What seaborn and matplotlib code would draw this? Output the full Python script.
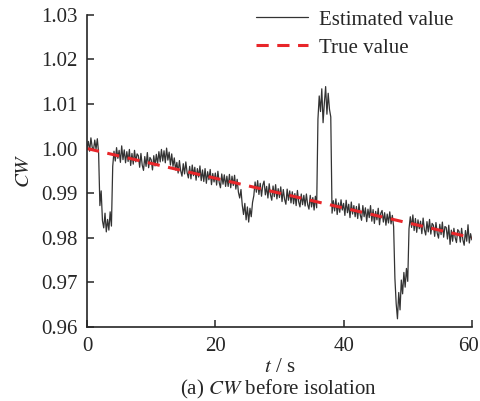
import numpy as np
import seaborn as sns
import matplotlib.pyplot as plt
from matplotlib.transforms import ScaledTranslation

t = np.round(np.arange(301) * 0.2, 1)
cw_est = [
    1.0002, 1.0016, 0.9994, 1.0024, 1.0003, 0.9996, 1.0019, 0.9999, 1.0022, 0.9990,
    0.9872, 0.9905, 0.9838, 0.9822, 0.9855, 0.9813, 0.9841, 0.9817, 0.9858, 0.9826,
    0.9960, 0.9994, 0.9972, 1.0002, 0.9978, 0.9996, 0.9969, 1.0006, 0.9975, 0.9997,
    0.9968, 0.9993, 0.9971, 0.9998, 0.9962, 0.9989, 0.9965, 0.9996, 0.9970, 0.9988,
    0.9984, 0.9958, 0.9989, 0.9963, 0.9951, 0.9982, 0.9960, 0.9991, 0.9957, 0.9980,
    0.9975, 0.9952, 0.9984, 0.9961, 0.9987, 0.9966, 0.9993, 0.9970, 0.9998, 0.9972,
    0.9995, 0.9968, 1.0001, 0.9974, 0.9992, 0.9963, 0.9988, 0.9960, 0.9979, 0.9952,
    0.9969, 0.9945, 0.9973, 0.9950, 0.9938, 0.9966, 0.9943, 0.9970, 0.9946, 0.9934,
    0.9960, 0.9932, 0.9963, 0.9939, 0.9958, 0.9929, 0.9955, 0.9936, 0.9961, 0.9928,
    0.9952, 0.9926, 0.9955, 0.9922, 0.9948, 0.9930, 0.9953, 0.9919, 0.9944, 0.9925,
    0.9945, 0.9918, 0.9949, 0.9924, 0.9912, 0.9943, 0.9920, 0.9941, 0.9915, 0.9938,
    0.9915, 0.9942, 0.9912, 0.9938, 0.9917, 0.9940, 0.9909, 0.9931, 0.9902, 0.9889,
    0.9908, 0.9873, 0.9852, 0.9877, 0.9840, 0.9869, 0.9835, 0.9866, 0.9847, 0.9879,
    0.9894, 0.9925, 0.9902, 0.9928, 0.9897, 0.9922, 0.9893, 0.9918, 0.9927, 0.9896,
    0.9915, 0.9889, 0.9921, 0.9896, 0.9884, 0.9916, 0.9892, 0.9919, 0.9887, 0.9910,
    0.9890, 0.9914, 0.9881, 0.9908, 0.9886, 0.9875, 0.9909, 0.9884, 0.9905, 0.9878,
    0.9903, 0.9876, 0.9899, 0.9872, 0.9906, 0.9880, 0.9869, 0.9898, 0.9874, 0.9895,
    0.9871, 0.9898, 0.9874, 0.9864, 0.9895, 0.9869, 0.9890, 0.9862, 0.9893, 0.9867,
    1.0066, 1.0118, 1.0083, 1.0134, 1.0058, 1.0102, 1.0139, 1.0077, 1.0124, 1.0088,
    1.0071, 0.9855, 0.9883, 0.9860, 0.9887, 0.9852, 0.9878, 0.9857, 0.9885, 0.9862,
    0.9877, 0.9850, 0.9884, 0.9856, 0.9875, 0.9845, 0.9880, 0.9853, 0.9872, 0.9847,
    0.9870, 0.9843, 0.9876, 0.9851, 0.9839, 0.9872, 0.9847, 0.9867, 0.9836, 0.9864,
    0.9845, 0.9872, 0.9837, 0.9863, 0.9832, 0.9859, 0.9840, 0.9866, 0.9829, 0.9855,
    0.9861, 0.9835, 0.9856, 0.9828, 0.9853, 0.9833, 0.9858, 0.9831, 0.9850, 0.9825,
    0.9709, 0.9652, 0.9618, 0.9677, 0.9638, 0.9705, 0.9674, 0.9722, 0.9689, 0.9731,
    0.9702, 0.9820, 0.9847, 0.9823, 0.9851, 0.9816, 0.9843, 0.9812, 0.9840, 0.9820,
    0.9837, 0.9809, 0.9844, 0.9818, 0.9806, 0.9836, 0.9813, 0.9841, 0.9808, 0.9832,
    0.9828, 0.9803, 0.9834, 0.9810, 0.9799, 0.9830, 0.9807, 0.9835, 0.9801, 0.9825,
    0.9823, 0.9797, 0.9828, 0.9785, 0.9817, 0.9792, 0.9821, 0.9800, 0.9789, 0.9818,
    0.9814, 0.9790, 0.9821, 0.9795, 0.9783, 0.9816, 0.9792, 0.9829, 0.9788, 0.9809,
    0.9795,
]

# true value (straight line)
t_true = [0, 60]
cw_true = [1.0, 0.98]

sns.set_style('ticks')
plt.rcParams['font.family'] = ['Liberation Serif', 'DejaVu Serif']
plt.rcParams['mathtext.fontset'] = 'stix'
plt.rcParams['font.size'] = 15

fig = plt.figure(figsize=(4.81, 4.01), dpi=100)
ax = fig.add_axes([0.181, 0.185, 0.8, 0.778])

sns.lineplot(x=t, y=cw_est, ax=ax, color='#333333', linewidth=0.9,
             label='Estimated value')
sns.lineplot(x=t_true, y=cw_true, ax=ax, color='#e8262a', linewidth=2.2,
             linestyle=(0, (4, 2.8)), label='True value')

ax.set_xlim(0, 60)
ax.set_ylim(0.96, 1.03)
ax.set_xticks([0, 20, 40, 60])
ax.set_yticks([0.96, 0.97, 0.98, 0.99, 1.00, 1.01, 1.02, 1.03])
ax.set_yticklabels(['0.96', '0.97', '0.98', '0.99', '1.00', '1.01', '1.02', '1.03'])
ax.tick_params(direction='in', length=5, width=1.1, labelsize=15, pad=7)
for s in ['left', 'bottom']:
    ax.spines[s].set_linewidth(1.2)
sns.despine(ax=ax)

# nudge the last x label so it stays inside the figure
last = ax.get_xticklabels()[-1]
last.set_transform(last.get_transform() + ScaledTranslation(-3 / 100, 0, fig.dpi_scale_trans))

ax.set_xlabel(r'$t$ / s', fontsize=15, labelpad=2)
ax.set_ylabel(r'$CW$', fontsize=15, labelpad=5)

ax.legend(loc='upper right', bbox_to_anchor=(1.0, 1.075), frameon=False,
          handlelength=2.5, fontsize=15, labelspacing=0.4, handletextpad=0.5)

fig.text(0.58, 0.017, r'(a) $CW$ before isolation', ha='center', va='baseline',
         fontsize=15)

fig.savefig('out.png', dpi=100)
